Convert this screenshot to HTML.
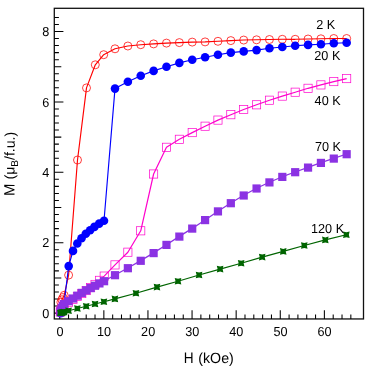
<!DOCTYPE html>
<html><head><meta charset="utf-8"><style>
html,body{margin:0;padding:0;background:#fff;}
svg{display:block;font-family:"Liberation Sans",sans-serif;font-size:12.3px;fill:#000;text-rendering:geometricPrecision;}
</style></head><body>
<div style="will-change:transform;transform:translateZ(0)"><svg width="390" height="366" viewBox="0 0 390 366" style="filter:blur(0.3px)">
<rect width="390" height="366" fill="#fff"/>
<rect x="54.30" y="8.30" width="309.20" height="310.65" fill="none" stroke="#111" stroke-width="1.3"/>
<path d="M59.74 318.95V310.35M68.56 318.95V314.55M77.38 318.95V314.55M86.20 318.95V314.55M95.02 318.95V314.55M103.85 318.95V310.35M112.67 318.95V314.55M121.49 318.95V314.55M130.31 318.95V314.55M139.13 318.95V314.55M147.95 318.95V310.35M156.77 318.95V314.55M165.59 318.95V314.55M174.42 318.95V314.55M183.24 318.95V314.55M192.06 318.95V310.35M200.88 318.95V314.55M209.70 318.95V314.55M218.52 318.95V314.55M227.34 318.95V314.55M236.16 318.95V310.35M244.99 318.95V314.55M253.81 318.95V314.55M262.63 318.95V314.55M271.45 318.95V314.55M280.27 318.95V310.35M289.09 318.95V314.55M297.91 318.95V314.55M306.73 318.95V314.55M315.55 318.95V314.55M324.38 318.95V310.35M333.20 318.95V314.55M342.02 318.95V314.55M350.84 318.95V314.55M54.30 313.10H63.40M54.30 306.06H58.90M54.30 299.02H58.90M54.30 291.98H58.90M54.30 284.94H58.90M54.30 277.90H61.30M54.30 270.86H58.90M54.30 263.82H58.90M54.30 256.78H58.90M54.30 249.74H58.90M54.30 242.70H63.40M54.30 235.66H58.90M54.30 228.62H58.90M54.30 221.58H58.90M54.30 214.54H58.90M54.30 207.50H61.30M54.30 200.46H58.90M54.30 193.42H58.90M54.30 186.38H58.90M54.30 179.34H58.90M54.30 172.30H63.40M54.30 165.26H58.90M54.30 158.22H58.90M54.30 151.18H58.90M54.30 144.14H58.90M54.30 137.10H61.30M54.30 130.06H58.90M54.30 123.02H58.90M54.30 115.98H58.90M54.30 108.94H58.90M54.30 101.90H63.40M54.30 94.86H58.90M54.30 87.82H58.90M54.30 80.78H58.90M54.30 73.74H58.90M54.30 66.70H61.30M54.30 59.66H58.90M54.30 52.62H58.90M54.30 45.58H58.90M54.30 38.54H58.90M54.30 31.50H63.40M54.30 24.46H58.90M54.30 17.42H58.90" stroke="#000" stroke-width="1.05" fill="none"/>
<polyline fill="none" stroke="#ff0000" stroke-width="1.15" stroke-linejoin="round" points="60.62,312.40 60.89,302.19 61.95,299.72 63.05,297.61 64.20,295.30 68.60,275.10 77.50,160.00 86.50,87.90 95.30,64.80 103.70,54.70 115.00,48.80 127.87,46.00 140.74,44.70 153.61,43.90 166.48,43.10 179.35,42.60 192.22,42.10 205.09,41.90 217.96,41.30 230.83,40.60 243.70,40.05 256.57,39.80 269.44,39.50 282.31,39.30 295.18,39.30 308.05,39.00 320.92,38.80 333.79,38.50 346.66,38.50"/>
<circle cx="60.62" cy="312.40" r="4" fill="none" stroke="#ff0000" stroke-width="0.75"/>
<circle cx="60.89" cy="302.19" r="4" fill="none" stroke="#ff0000" stroke-width="0.75"/>
<circle cx="61.95" cy="299.72" r="4" fill="none" stroke="#ff0000" stroke-width="0.75"/>
<circle cx="63.05" cy="297.61" r="4" fill="none" stroke="#ff0000" stroke-width="0.75"/>
<circle cx="64.20" cy="295.30" r="4" fill="none" stroke="#ff0000" stroke-width="0.75"/>
<circle cx="68.60" cy="275.10" r="4" fill="none" stroke="#ff0000" stroke-width="0.75"/>
<circle cx="77.50" cy="160.00" r="4" fill="none" stroke="#ff0000" stroke-width="0.75"/>
<circle cx="86.50" cy="87.90" r="4" fill="none" stroke="#ff0000" stroke-width="0.75"/>
<circle cx="95.30" cy="64.80" r="4" fill="none" stroke="#ff0000" stroke-width="0.75"/>
<circle cx="103.70" cy="54.70" r="4" fill="none" stroke="#ff0000" stroke-width="0.75"/>
<circle cx="115.00" cy="48.80" r="4" fill="none" stroke="#ff0000" stroke-width="0.75"/>
<circle cx="127.87" cy="46.00" r="4" fill="none" stroke="#ff0000" stroke-width="0.75"/>
<circle cx="140.74" cy="44.70" r="4" fill="none" stroke="#ff0000" stroke-width="0.75"/>
<circle cx="153.61" cy="43.90" r="4" fill="none" stroke="#ff0000" stroke-width="0.75"/>
<circle cx="166.48" cy="43.10" r="4" fill="none" stroke="#ff0000" stroke-width="0.75"/>
<circle cx="179.35" cy="42.60" r="4" fill="none" stroke="#ff0000" stroke-width="0.75"/>
<circle cx="192.22" cy="42.10" r="4" fill="none" stroke="#ff0000" stroke-width="0.75"/>
<circle cx="205.09" cy="41.90" r="4" fill="none" stroke="#ff0000" stroke-width="0.75"/>
<circle cx="217.96" cy="41.30" r="4" fill="none" stroke="#ff0000" stroke-width="0.75"/>
<circle cx="230.83" cy="40.60" r="4" fill="none" stroke="#ff0000" stroke-width="0.75"/>
<circle cx="243.70" cy="40.05" r="4" fill="none" stroke="#ff0000" stroke-width="0.75"/>
<circle cx="256.57" cy="39.80" r="4" fill="none" stroke="#ff0000" stroke-width="0.75"/>
<circle cx="269.44" cy="39.50" r="4" fill="none" stroke="#ff0000" stroke-width="0.75"/>
<circle cx="282.31" cy="39.30" r="4" fill="none" stroke="#ff0000" stroke-width="0.75"/>
<circle cx="295.18" cy="39.30" r="4" fill="none" stroke="#ff0000" stroke-width="0.75"/>
<circle cx="308.05" cy="39.00" r="4" fill="none" stroke="#ff0000" stroke-width="0.75"/>
<circle cx="320.92" cy="38.80" r="4" fill="none" stroke="#ff0000" stroke-width="0.75"/>
<circle cx="333.79" cy="38.50" r="4" fill="none" stroke="#ff0000" stroke-width="0.75"/>
<circle cx="346.66" cy="38.50" r="4" fill="none" stroke="#ff0000" stroke-width="0.75"/>
<polyline fill="none" stroke="#0000ff" stroke-width="1.15" stroke-linejoin="round" points="60.71,313.28 63.05,311.34 68.70,266.10 73.00,250.90 77.30,243.50 81.50,238.20 85.80,233.80 90.10,230.20 94.40,226.90 99.20,223.60 104.00,220.70 115.00,88.60 127.87,81.70 140.74,75.80 153.61,70.90 166.48,66.80 179.35,62.90 192.22,59.80 205.09,57.30 217.96,54.70 230.83,52.60 243.70,51.40 256.57,50.10 269.44,48.30 282.31,47.00 295.18,45.70 308.05,44.90 320.92,44.20 333.79,43.20 346.66,42.70"/>
<circle cx="60.71" cy="313.28" r="4.3" fill="#0000ff"/>
<circle cx="68.70" cy="266.10" r="4.3" fill="#0000ff"/>
<circle cx="73.00" cy="250.90" r="4.3" fill="#0000ff"/>
<circle cx="77.30" cy="243.50" r="4.3" fill="#0000ff"/>
<circle cx="81.50" cy="238.20" r="4.3" fill="#0000ff"/>
<circle cx="85.80" cy="233.80" r="4.3" fill="#0000ff"/>
<circle cx="90.10" cy="230.20" r="4.3" fill="#0000ff"/>
<circle cx="94.40" cy="226.90" r="4.3" fill="#0000ff"/>
<circle cx="99.20" cy="223.60" r="4.3" fill="#0000ff"/>
<circle cx="104.00" cy="220.70" r="4.3" fill="#0000ff"/>
<circle cx="115.00" cy="88.60" r="4.3" fill="#0000ff"/>
<circle cx="127.87" cy="81.70" r="4.3" fill="#0000ff"/>
<circle cx="140.74" cy="75.80" r="4.3" fill="#0000ff"/>
<circle cx="153.61" cy="70.90" r="4.3" fill="#0000ff"/>
<circle cx="166.48" cy="66.80" r="4.3" fill="#0000ff"/>
<circle cx="179.35" cy="62.90" r="4.3" fill="#0000ff"/>
<circle cx="192.22" cy="59.80" r="4.3" fill="#0000ff"/>
<circle cx="205.09" cy="57.30" r="4.3" fill="#0000ff"/>
<circle cx="217.96" cy="54.70" r="4.3" fill="#0000ff"/>
<circle cx="230.83" cy="52.60" r="4.3" fill="#0000ff"/>
<circle cx="243.70" cy="51.40" r="4.3" fill="#0000ff"/>
<circle cx="256.57" cy="50.10" r="4.3" fill="#0000ff"/>
<circle cx="269.44" cy="48.30" r="4.3" fill="#0000ff"/>
<circle cx="282.31" cy="47.00" r="4.3" fill="#0000ff"/>
<circle cx="295.18" cy="45.70" r="4.3" fill="#0000ff"/>
<circle cx="308.05" cy="44.90" r="4.3" fill="#0000ff"/>
<circle cx="320.92" cy="44.20" r="4.3" fill="#0000ff"/>
<circle cx="333.79" cy="43.20" r="4.3" fill="#0000ff"/>
<circle cx="346.66" cy="42.70" r="4.3" fill="#0000ff"/>
<polyline fill="none" stroke="#ff00cc" stroke-width="1.2" stroke-linejoin="round" points="60.27,311.87 60.84,310.64 61.95,308.52 63.05,306.59 64.15,304.83 68.56,302.19 72.97,299.51 77.38,296.42 81.79,293.56 86.20,290.57 90.61,287.62 95.02,284.41 99.44,280.36 104.20,276.10 115.00,264.90 127.87,252.20 140.74,230.80 153.61,174.00 166.48,147.30 179.35,139.30 192.22,132.60 205.09,126.20 217.96,120.10 230.83,114.70 243.70,109.50 256.57,104.80 269.44,100.20 282.31,96.10 295.18,92.20 308.05,88.30 320.92,84.90 333.79,81.60 346.66,78.60"/>
<rect x="56.17" y="307.77" width="8.2" height="8.2" fill="none" stroke="#ff00cc" stroke-width="0.7"/>
<rect x="56.74" y="306.54" width="8.2" height="8.2" fill="none" stroke="#ff00cc" stroke-width="0.7"/>
<rect x="57.85" y="304.42" width="8.2" height="8.2" fill="none" stroke="#ff00cc" stroke-width="0.7"/>
<rect x="58.95" y="302.49" width="8.2" height="8.2" fill="none" stroke="#ff00cc" stroke-width="0.7"/>
<rect x="60.05" y="300.73" width="8.2" height="8.2" fill="none" stroke="#ff00cc" stroke-width="0.7"/>
<rect x="64.46" y="298.09" width="8.2" height="8.2" fill="none" stroke="#ff00cc" stroke-width="0.7"/>
<rect x="68.87" y="295.41" width="8.2" height="8.2" fill="none" stroke="#ff00cc" stroke-width="0.7"/>
<rect x="73.28" y="292.32" width="8.2" height="8.2" fill="none" stroke="#ff00cc" stroke-width="0.7"/>
<rect x="77.69" y="289.46" width="8.2" height="8.2" fill="none" stroke="#ff00cc" stroke-width="0.7"/>
<rect x="82.10" y="286.47" width="8.2" height="8.2" fill="none" stroke="#ff00cc" stroke-width="0.7"/>
<rect x="86.51" y="283.52" width="8.2" height="8.2" fill="none" stroke="#ff00cc" stroke-width="0.7"/>
<rect x="90.92" y="280.31" width="8.2" height="8.2" fill="none" stroke="#ff00cc" stroke-width="0.7"/>
<rect x="95.34" y="276.26" width="8.2" height="8.2" fill="none" stroke="#ff00cc" stroke-width="0.7"/>
<rect x="100.10" y="272.00" width="8.2" height="8.2" fill="none" stroke="#ff00cc" stroke-width="0.7"/>
<rect x="110.90" y="260.80" width="8.2" height="8.2" fill="none" stroke="#ff00cc" stroke-width="0.7"/>
<rect x="123.77" y="248.10" width="8.2" height="8.2" fill="none" stroke="#ff00cc" stroke-width="0.7"/>
<rect x="136.64" y="226.70" width="8.2" height="8.2" fill="none" stroke="#ff00cc" stroke-width="0.7"/>
<rect x="149.51" y="169.90" width="8.2" height="8.2" fill="none" stroke="#ff00cc" stroke-width="0.7"/>
<rect x="162.38" y="143.20" width="8.2" height="8.2" fill="none" stroke="#ff00cc" stroke-width="0.7"/>
<rect x="175.25" y="135.20" width="8.2" height="8.2" fill="none" stroke="#ff00cc" stroke-width="0.7"/>
<rect x="188.12" y="128.50" width="8.2" height="8.2" fill="none" stroke="#ff00cc" stroke-width="0.7"/>
<rect x="200.99" y="122.10" width="8.2" height="8.2" fill="none" stroke="#ff00cc" stroke-width="0.7"/>
<rect x="213.86" y="116.00" width="8.2" height="8.2" fill="none" stroke="#ff00cc" stroke-width="0.7"/>
<rect x="226.73" y="110.60" width="8.2" height="8.2" fill="none" stroke="#ff00cc" stroke-width="0.7"/>
<rect x="239.60" y="105.40" width="8.2" height="8.2" fill="none" stroke="#ff00cc" stroke-width="0.7"/>
<rect x="252.47" y="100.70" width="8.2" height="8.2" fill="none" stroke="#ff00cc" stroke-width="0.7"/>
<rect x="265.34" y="96.10" width="8.2" height="8.2" fill="none" stroke="#ff00cc" stroke-width="0.7"/>
<rect x="278.21" y="92.00" width="8.2" height="8.2" fill="none" stroke="#ff00cc" stroke-width="0.7"/>
<rect x="291.08" y="88.10" width="8.2" height="8.2" fill="none" stroke="#ff00cc" stroke-width="0.7"/>
<rect x="303.95" y="84.20" width="8.2" height="8.2" fill="none" stroke="#ff00cc" stroke-width="0.7"/>
<rect x="316.82" y="80.80" width="8.2" height="8.2" fill="none" stroke="#ff00cc" stroke-width="0.7"/>
<rect x="329.69" y="77.50" width="8.2" height="8.2" fill="none" stroke="#ff00cc" stroke-width="0.7"/>
<rect x="342.56" y="74.50" width="8.2" height="8.2" fill="none" stroke="#ff00cc" stroke-width="0.7"/>
<polyline fill="none" stroke="#8b32e3" stroke-width="1.25" stroke-linejoin="round" points="60.62,312.04 60.84,310.28 61.95,307.82 63.05,305.71 64.15,303.77 68.56,301.03 72.97,298.32 77.38,295.50 81.79,292.68 86.20,290.18 90.61,287.86 95.02,285.54 99.44,283.22 104.10,281.00 115.00,275.00 127.87,268.00 140.74,260.60 153.61,252.90 166.48,244.70 179.35,236.40 192.22,228.40 205.09,219.90 217.96,211.20 230.83,203.00 243.70,195.30 256.57,188.30 269.44,182.20 282.31,176.70 295.18,172.00 308.05,167.40 320.92,162.70 333.79,158.40 346.66,154.00"/>
<rect x="56.52" y="308.14" width="8.2" height="8.2" fill="#8b32e3"/>
<rect x="56.74" y="306.38" width="8.2" height="8.2" fill="#8b32e3"/>
<rect x="57.85" y="303.92" width="8.2" height="8.2" fill="#8b32e3"/>
<rect x="58.95" y="301.81" width="8.2" height="8.2" fill="#8b32e3"/>
<rect x="60.05" y="299.87" width="8.2" height="8.2" fill="#8b32e3"/>
<rect x="64.46" y="297.13" width="8.2" height="8.2" fill="#8b32e3"/>
<rect x="68.87" y="294.42" width="8.2" height="8.2" fill="#8b32e3"/>
<rect x="73.28" y="291.60" width="8.2" height="8.2" fill="#8b32e3"/>
<rect x="77.69" y="288.78" width="8.2" height="8.2" fill="#8b32e3"/>
<rect x="82.10" y="286.28" width="8.2" height="8.2" fill="#8b32e3"/>
<rect x="86.51" y="283.96" width="8.2" height="8.2" fill="#8b32e3"/>
<rect x="90.92" y="281.64" width="8.2" height="8.2" fill="#8b32e3"/>
<rect x="95.34" y="279.32" width="8.2" height="8.2" fill="#8b32e3"/>
<rect x="100.00" y="277.10" width="8.2" height="8.2" fill="#8b32e3"/>
<rect x="110.90" y="271.10" width="8.2" height="8.2" fill="#8b32e3"/>
<rect x="123.77" y="264.10" width="8.2" height="8.2" fill="#8b32e3"/>
<rect x="136.64" y="256.70" width="8.2" height="8.2" fill="#8b32e3"/>
<rect x="149.51" y="249.00" width="8.2" height="8.2" fill="#8b32e3"/>
<rect x="162.38" y="240.80" width="8.2" height="8.2" fill="#8b32e3"/>
<rect x="175.25" y="232.50" width="8.2" height="8.2" fill="#8b32e3"/>
<rect x="188.12" y="224.50" width="8.2" height="8.2" fill="#8b32e3"/>
<rect x="200.99" y="216.00" width="8.2" height="8.2" fill="#8b32e3"/>
<rect x="213.86" y="207.30" width="8.2" height="8.2" fill="#8b32e3"/>
<rect x="226.73" y="199.10" width="8.2" height="8.2" fill="#8b32e3"/>
<rect x="239.60" y="191.40" width="8.2" height="8.2" fill="#8b32e3"/>
<rect x="252.47" y="184.40" width="8.2" height="8.2" fill="#8b32e3"/>
<rect x="265.34" y="178.30" width="8.2" height="8.2" fill="#8b32e3"/>
<rect x="278.21" y="172.80" width="8.2" height="8.2" fill="#8b32e3"/>
<rect x="291.08" y="168.10" width="8.2" height="8.2" fill="#8b32e3"/>
<rect x="303.95" y="163.50" width="8.2" height="8.2" fill="#8b32e3"/>
<rect x="316.82" y="158.80" width="8.2" height="8.2" fill="#8b32e3"/>
<rect x="329.69" y="154.50" width="8.2" height="8.2" fill="#8b32e3"/>
<rect x="342.56" y="150.10" width="8.2" height="8.2" fill="#8b32e3"/>
<polyline fill="none" stroke="#006400" stroke-width="1.15" stroke-linejoin="round" points="60.27,312.96 61.50,312.64 62.39,312.41 63.27,312.18 64.15,311.96 68.56,310.81 77.38,308.52 86.20,306.24 95.02,303.95 103.90,301.70 114.90,298.90 135.94,293.20 156.98,287.10 178.02,281.20 199.06,275.00 220.10,269.10 241.14,263.20 262.18,257.10 283.22,251.40 304.26,245.50 325.30,239.90 346.34,234.70"/>
<polygon points="63.57,316.26 60.27,315.46 56.97,316.26 57.77,312.96 56.97,309.66 60.27,310.46 63.57,309.66 62.77,312.96" fill="#006400"/>
<polygon points="64.80,315.94 61.50,315.14 58.20,315.94 59.00,312.64 58.20,309.34 61.50,310.14 64.80,309.34 64.00,312.64" fill="#006400"/>
<polygon points="65.69,315.71 62.39,314.91 59.09,315.71 59.89,312.41 59.09,309.11 62.39,309.91 65.69,309.11 64.89,312.41" fill="#006400"/>
<polygon points="66.57,315.48 63.27,314.68 59.97,315.48 60.77,312.18 59.97,308.88 63.27,309.68 66.57,308.88 65.77,312.18" fill="#006400"/>
<polygon points="67.45,315.26 64.15,314.46 60.85,315.26 61.65,311.96 60.85,308.66 64.15,309.46 67.45,308.66 66.65,311.96" fill="#006400"/>
<polygon points="71.86,314.11 68.56,313.31 65.26,314.11 66.06,310.81 65.26,307.51 68.56,308.31 71.86,307.51 71.06,310.81" fill="#006400"/>
<polygon points="80.68,311.82 77.38,311.02 74.08,311.82 74.88,308.52 74.08,305.22 77.38,306.02 80.68,305.22 79.88,308.52" fill="#006400"/>
<polygon points="89.50,309.54 86.20,308.74 82.90,309.54 83.70,306.24 82.90,302.94 86.20,303.74 89.50,302.94 88.70,306.24" fill="#006400"/>
<polygon points="98.32,307.25 95.02,306.45 91.72,307.25 92.52,303.95 91.72,300.65 95.02,301.45 98.32,300.65 97.52,303.95" fill="#006400"/>
<polygon points="107.20,305.00 103.90,304.20 100.60,305.00 101.40,301.70 100.60,298.40 103.90,299.20 107.20,298.40 106.40,301.70" fill="#006400"/>
<polygon points="118.20,302.20 114.90,301.40 111.60,302.20 112.40,298.90 111.60,295.60 114.90,296.40 118.20,295.60 117.40,298.90" fill="#006400"/>
<polygon points="139.24,296.50 135.94,295.70 132.64,296.50 133.44,293.20 132.64,289.90 135.94,290.70 139.24,289.90 138.44,293.20" fill="#006400"/>
<polygon points="160.28,290.40 156.98,289.60 153.68,290.40 154.48,287.10 153.68,283.80 156.98,284.60 160.28,283.80 159.48,287.10" fill="#006400"/>
<polygon points="181.32,284.50 178.02,283.70 174.72,284.50 175.52,281.20 174.72,277.90 178.02,278.70 181.32,277.90 180.52,281.20" fill="#006400"/>
<polygon points="202.36,278.30 199.06,277.50 195.76,278.30 196.56,275.00 195.76,271.70 199.06,272.50 202.36,271.70 201.56,275.00" fill="#006400"/>
<polygon points="223.40,272.40 220.10,271.60 216.80,272.40 217.60,269.10 216.80,265.80 220.10,266.60 223.40,265.80 222.60,269.10" fill="#006400"/>
<polygon points="244.44,266.50 241.14,265.70 237.84,266.50 238.64,263.20 237.84,259.90 241.14,260.70 244.44,259.90 243.64,263.20" fill="#006400"/>
<polygon points="265.48,260.40 262.18,259.60 258.88,260.40 259.68,257.10 258.88,253.80 262.18,254.60 265.48,253.80 264.68,257.10" fill="#006400"/>
<polygon points="286.52,254.70 283.22,253.90 279.92,254.70 280.72,251.40 279.92,248.10 283.22,248.90 286.52,248.10 285.72,251.40" fill="#006400"/>
<polygon points="307.56,248.80 304.26,248.00 300.96,248.80 301.76,245.50 300.96,242.20 304.26,243.00 307.56,242.20 306.76,245.50" fill="#006400"/>
<polygon points="328.60,243.20 325.30,242.40 322.00,243.20 322.80,239.90 322.00,236.60 325.30,237.40 328.60,236.60 327.80,239.90" fill="#006400"/>
<polygon points="349.64,238.00 346.34,237.20 343.04,238.00 343.84,234.70 343.04,231.40 346.34,232.20 349.64,231.40 348.84,234.70" fill="#006400"/>
<text transform="translate(56.42 335.90) scale(1.030 1.060)" font-size="12.30">0</text>
<text transform="translate(97.00 335.90) scale(1.030 1.060)" font-size="12.30">10</text>
<text transform="translate(141.11 335.90) scale(1.030 1.060)" font-size="12.30">20</text>
<text transform="translate(185.21 335.90) scale(1.030 1.060)" font-size="12.30">30</text>
<text transform="translate(229.32 335.90) scale(1.030 1.060)" font-size="12.30">40</text>
<text transform="translate(273.42 335.90) scale(1.030 1.060)" font-size="12.30">50</text>
<text transform="translate(317.53 335.90) scale(1.030 1.060)" font-size="12.30">60</text>
<text transform="translate(42.25 317.70) scale(1.030 1.060)" font-size="12.30">0</text>
<text transform="translate(42.25 247.30) scale(1.030 1.060)" font-size="12.30">2</text>
<text transform="translate(42.25 176.90) scale(1.030 1.060)" font-size="12.30">4</text>
<text transform="translate(42.25 106.50) scale(1.030 1.060)" font-size="12.30">6</text>
<text transform="translate(42.25 36.10) scale(1.030 1.060)" font-size="12.30">8</text>
<text transform="translate(316.30 29.40) scale(1.030 1.060)" font-size="12.30">2 K</text>
<text transform="translate(314.30 60.40) scale(1.030 1.060)" font-size="12.30">20 K</text>
<text transform="translate(314.60 104.50) scale(1.030 1.060)" font-size="12.30">40 K</text>
<text transform="translate(315.00 150.80) scale(1.030 1.060)" font-size="12.30">70 K</text>
<text transform="translate(311.00 232.70) scale(1.030 1.060)" font-size="12.30">120 K</text>
<text transform="translate(183.82 363.00) scale(0.960 1.070)" font-size="14.20">H</text>
<text transform="translate(198.28 363.00) scale(1.000 1.020)" font-size="14.20">(</text>
<text transform="translate(203.01 363.00) scale(1.000 1.020)" font-size="14.20">k</text>
<text transform="translate(210.11 363.00) scale(1.000 1.040)" font-size="14.20">O</text>
<text transform="translate(221.15 363.00) scale(1.000 1.000)" font-size="14.20">e</text>
<text transform="translate(229.05 363.00) scale(1.000 1.020)" font-size="14.20">)</text>
<g transform="translate(14.6 163.95) rotate(-89.9)"><text transform="translate(-32.17 0.00) scale(1.050 1.060)" font-size="14.10">M</text><text transform="translate(-15.53 0.00) scale(1.000 1.000)" font-size="14.10">(μ</text><text transform="translate(-2.71 3.50) scale(1.000 1.000)" font-size="10.00">B</text><text transform="translate(3.96 0.00) scale(1.000 1.000)" font-size="14.10">/f.u.)</text></g>
</svg></div>
</body></html>
